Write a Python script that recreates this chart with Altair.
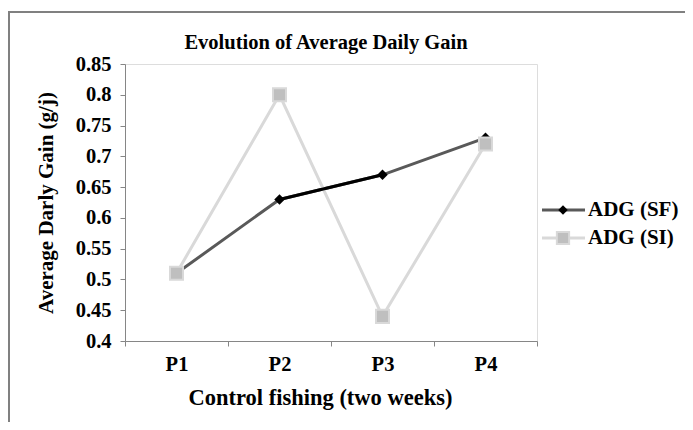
import altair as alt
import pandas as pd

periods = ["P1", "P2", "P3", "P4"]
adg_sf = [0.51, 0.63, 0.67, 0.73]
adg_si = [0.51, 0.80, 0.44, 0.72]
y_ticks = [0.4, 0.45, 0.5, 0.55, 0.6, 0.65, 0.7, 0.75, 0.8, 0.85]
series_names = ["ADG (SF)", "ADG (SI)"]
chart_title = "Evolution of Average Daily Gain"

FONT = "Liberation Serif"

sf_df = pd.DataFrame({"period": periods, "value": adg_sf, "series": series_names[0]})
si_df = pd.DataFrame({"period": periods, "value": adg_si, "series": series_names[1]})
seg_df = sf_df[sf_df["period"].isin(["P2", "P3"])]

x_enc = alt.X(
    "period:N",
    sort=periods,
    scale=alt.Scale(type="band", paddingInner=0, paddingOuter=0, domain=periods),
    axis=alt.Axis(
        title="Control fishing (two weeks)",
        labelAngle=0,
        tickBand="extent",
        tickSize=5,
        labelPadding=8,
        titlePadding=12,
        titleX=195,
        domainColor="#868686",
        tickColor="#868686",
        labelFont=FONT, labelFontSize=20.5, labelFontWeight="bold", labelColor="black",
        titleFont=FONT, titleFontSize=22.5, titleFontWeight="bold", titleColor="black",
        grid=False,
    ),
)
y_enc = alt.Y(
    "value:Q",
    scale=alt.Scale(domain=[0.4, 0.85], nice=False, zero=False),
    axis=alt.Axis(
        title="Average Darly Gain (g/j)",
        values=y_ticks,
        format=".2~f",
        tickSize=5,
        labelPadding=9,
        titlePadding=19,
        domainColor="#868686",
        tickColor="#868686",
        labelFont=FONT, labelFontSize=20.5, labelFontWeight="bold", labelColor="black",
        titleFont=FONT, titleFontSize=21, titleFontWeight="bold", titleColor="black",
        grid=False,
    ),
)

sf_line = alt.Chart(sf_df).mark_line(color="#595959", strokeWidth=3).encode(x=x_enc, y=y_enc)
si_line = alt.Chart(si_df).mark_line(color="#d9d9d9", strokeWidth=3).encode(x=x_enc, y=y_enc)
seg_line = alt.Chart(seg_df).mark_line(color="black", strokeWidth=3).encode(x=x_enc, y=y_enc)
sf_pts = alt.Chart(sf_df).mark_point(shape="diamond", filled=True, color="black", size=110, opacity=1).encode(x=x_enc, y=y_enc)
si_pts = alt.Chart(si_df).mark_square(color="#bfbfbf", stroke="#d9d9d9", strokeWidth=2, size=170, opacity=1).encode(x=x_enc, y=y_enc)

# outer frame
frame_df = pd.DataFrame({"k": [0]})
frame_v = alt.Chart(frame_df).mark_rule(color="#808080", strokeWidth=2).encode(
    x=alt.value(-116), y=alt.value(-52), y2=alt.value(360))
frame_h = alt.Chart(frame_df).mark_rule(color="#808080", strokeWidth=2).encode(
    x=alt.value(-117), x2=alt.value(560), y=alt.value(-52))

# title as text mark
title_df = pd.DataFrame({"t": [chart_title]})
title_txt = alt.Chart(title_df).mark_text(align="center", baseline="alphabetic", font=FONT, fontSize=20.5,
                                          fontWeight="bold", color="black").encode(
    x=alt.value(201), y=alt.value(-15), text="t:N")

# manual legend
leg_sf = pd.DataFrame({"label": [series_names[0]]})
leg_si = pd.DataFrame({"label": [series_names[1]]})
LX0, LX1, LXM, LXT = 417, 460, 438, 463
Y_SF, Y_SI = 146, 174
leg_sf_line = alt.Chart(leg_sf).mark_rule(color="#595959", strokeWidth=3).encode(
    x=alt.value(LX0), x2=alt.value(LX1), y=alt.value(Y_SF))
leg_sf_pt = alt.Chart(leg_sf).mark_point(shape="diamond", filled=True, color="black", size=90, opacity=1).encode(
    x=alt.value(LXM), y=alt.value(Y_SF))
leg_sf_txt = alt.Chart(leg_sf).mark_text(align="left", baseline="middle", font=FONT, fontSize=21,
                                         fontWeight="bold", color="black").encode(
    x=alt.value(LXT), y=alt.value(Y_SF), text="label:N")
leg_si_line = alt.Chart(leg_si).mark_rule(color="#d9d9d9", strokeWidth=3).encode(
    x=alt.value(LX0), x2=alt.value(LX1), y=alt.value(Y_SI))
leg_si_pt = alt.Chart(leg_si).mark_square(color="#bfbfbf", stroke="#d9d9d9", strokeWidth=2, size=150, opacity=1).encode(
    x=alt.value(LXM), y=alt.value(Y_SI))
leg_si_txt = alt.Chart(leg_si).mark_text(align="left", baseline="middle", font=FONT, fontSize=21,
                                         fontWeight="bold", color="black").encode(
    x=alt.value(LXT), y=alt.value(Y_SI), text="label:N")

chart = alt.layer(
    frame_v, frame_h, title_txt,
    sf_line, si_line, seg_line, sf_pts, si_pts,
    leg_sf_line, leg_sf_pt, leg_sf_txt, leg_si_line, leg_si_pt, leg_si_txt,
).properties(
    width=412,
    height=277,
    autosize=alt.AutoSizeParams(type="none"),
    padding={"left": 117, "top": 56, "right": 148, "bottom": 81},
).configure_view(
    stroke="#7f7f7f", strokeWidth=1.5
).configure(background="white")

chart.save("out.html", embed_options={"renderer": "svg", "actions": False})
